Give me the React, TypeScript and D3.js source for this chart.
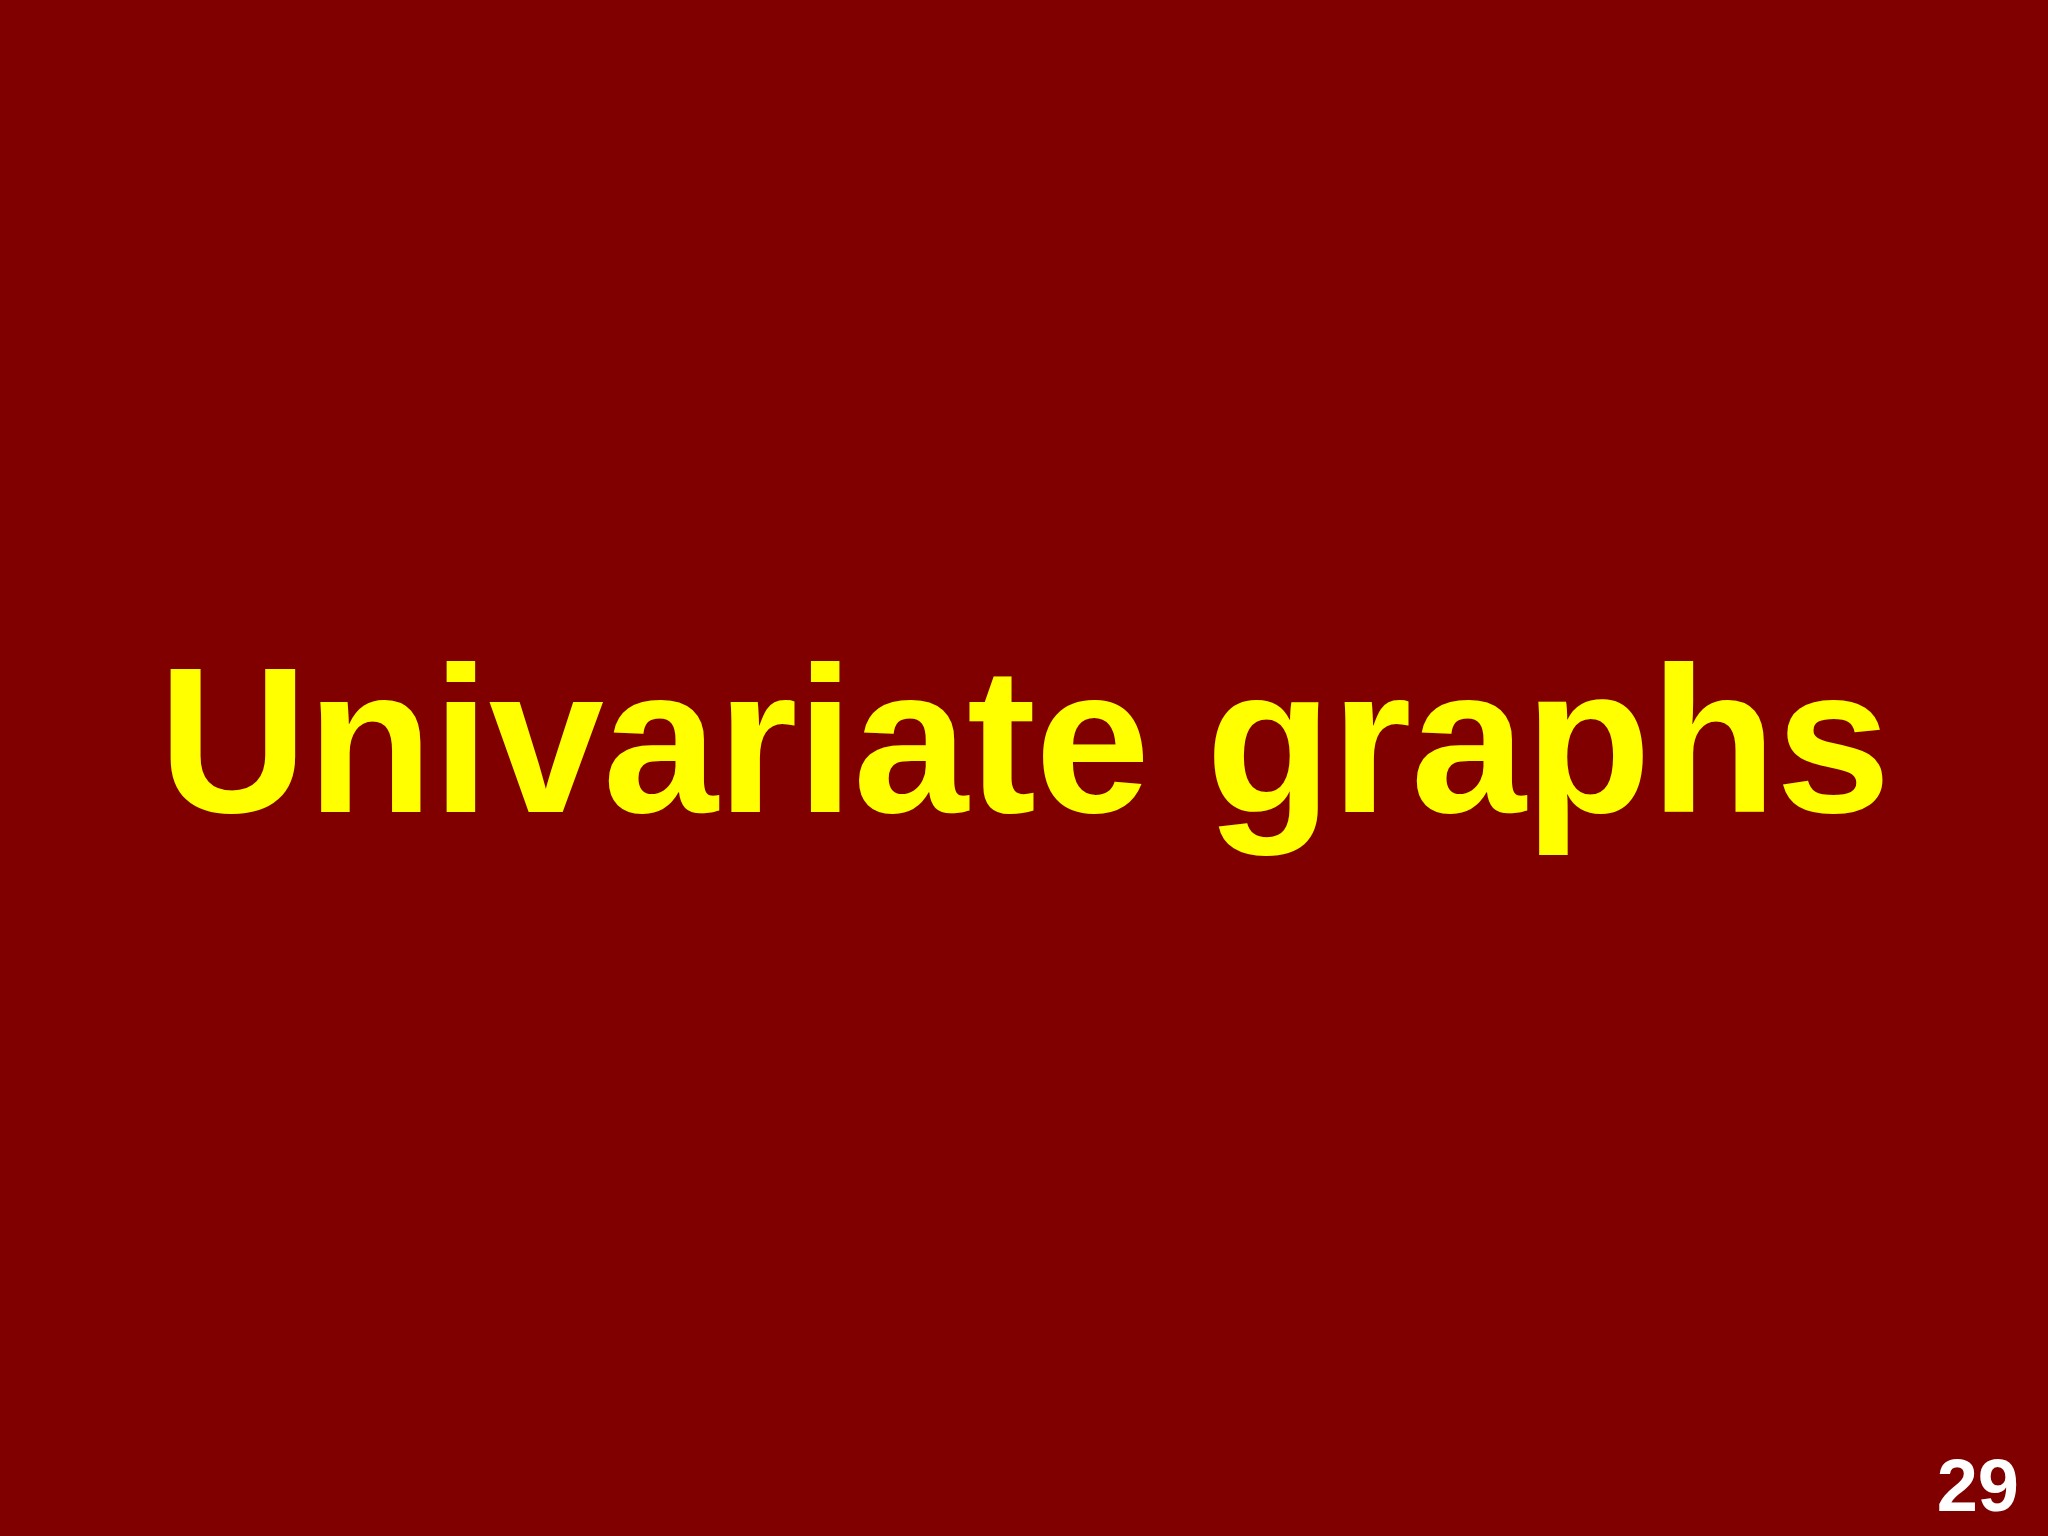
import React, { useEffect, useRef } from "react";
import * as d3 from "d3";

const titleLines: string[] = ["Univariate graphs"];
const pageNumbers: string[] = ["29"];

const W = 2048;
const H = 1536;

export default function App() {
  const ref = useRef<SVGSVGElement | null>(null);

  useEffect(() => {
    const svg = d3.select(ref.current);
    svg.selectAll("*").remove();
    svg.append("rect").attr("x", 0).attr("y", 0).attr("width", W).attr("height", H).attr("fill", "#800000");

    const y = d3.scaleBand<number>().domain(titleLines.map((_, i) => i)).range([664, 812]);

    svg
      .selectAll("text.title")
      .data(titleLines)
      .enter()
      .append("text")
      .attr("class", "title")
      .attr("x", W / 2)
      .attr("y", (_, i) => (y(i) as number) + y.bandwidth())
      .attr("text-anchor", "middle")
      .attr("font-family", "Liberation Sans, Arial, sans-serif")
      .attr("font-weight", "bold")
      .attr("font-size", 207)
      .attr("letter-spacing", -1)
      .attr("fill", "#FFFF00")
      .text((d) => d);

    svg
      .selectAll("text.page")
      .data(pageNumbers)
      .enter()
      .append("text")
      .attr("class", "page")
      .attr("x", 2019)
      .attr("y", 1511)
      .attr("text-anchor", "end")
      .attr("font-family", "Liberation Sans, Arial, sans-serif")
      .attr("font-weight", "bold")
      .attr("font-size", 74)
      .attr("fill", "#FFFFFF")
      .text((d) => d);
  }, []);

  return (
    <svg
      ref={ref}
      width={W}
      height={H}
      viewBox={`0 0 ${W} ${H}`}
      style={{ position: "fixed", left: 0, top: 0, display: "block" }}
    />
  );
}
